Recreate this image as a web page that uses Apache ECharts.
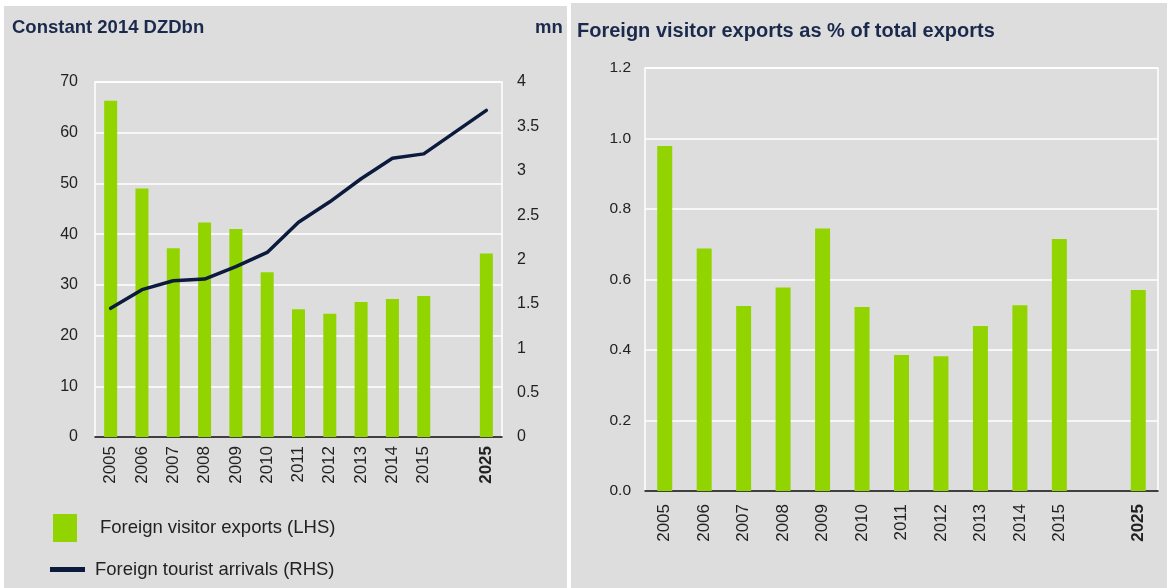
<!DOCTYPE html>
<html>
<head>
<meta charset="utf-8">
<script src="https://cdn.jsdelivr.net/npm/echarts@6/dist/echarts.min.js"></script>
<style>
html,body{margin:0;padding:0;background:#fff;}
#c{width:1167px;height:588px;}
</style>
</head>
<body>
<div id="c"></div>
<script>
// ---- data ----
const categories = ['2005','2006','2007','2008','2009','2010','2011','2012','2013','2014','2015','','2025'];
const visitorExports = [66.3, 49.0, 37.2, 42.3, 41.0, 32.5, 25.2, 24.3, 26.6, 27.2, 27.8, null, 36.2];
const touristArrivals = [1.45, 1.66, 1.76, 1.78, 1.92, 2.08, 2.42, 2.65, 2.91, 3.14, 3.19, null, 3.68];
const exportsShare = [0.979, 0.688, 0.525, 0.577, 0.745, 0.522, 0.386, 0.382, 0.468, 0.527, 0.715, null, 0.570];
const leftTitle = 'Constant 2014 DZDbn';
const rightUnit = 'mn';
const rightTitle = 'Foreign visitor exports as % of total exports';
const barName = 'Foreign visitor exports (LHS)';
const lineName = 'Foreign tourist arrivals (RHS)';
const shareName = 'Foreign visitor exports as % of total exports';

const GREEN = '#91d400';
const NAVY = '#0b1a3d';
const PANEL = '#dddddd';
const FONT = '"Liberation Sans", Arial, sans-serif';
const TXT = '#222222';

const chart = echarts.init(document.getElementById('c'), null, {renderer:'canvas'});

const xLabel = (margin) => ({
  rotate: 90,
  margin: margin,
  fontSize: 17,
  fontFamily: FONT,
  color: TXT,
  interval: 0,
  formatter: v => v === '2025' ? '{b|' + v + '}' : v,
  rich: { b: { fontWeight: 'bold', fontSize: 17, fontFamily: FONT, color: TXT } }
});

chart.setOption({
  animation: false,
  backgroundColor: '#ffffff',
  graphic: [
    { type: 'rect', z: -10, shape: { x: 4, y: 6, width: 563, height: 582 }, style: { fill: PANEL } },
    { type: 'rect', z: -10, shape: { x: 571, y: 3, width: 596, height: 585 }, style: { fill: PANEL } }
  ],
  title: [
    { text: leftTitle, left: 12, top: 18, padding: 0,
      textStyle: { fontFamily: FONT, fontSize: 18.5, fontWeight: 'bold', color: '#1b2a4c' } },
    { text: rightUnit, left: 535, top: 18, padding: 0,
      textStyle: { fontFamily: FONT, fontSize: 18.5, fontWeight: 'bold', color: '#1b2a4c' } },
    { text: rightTitle, left: 577, top: 21, padding: 0,
      textStyle: { fontFamily: FONT, fontSize: 20, fontWeight: 'bold', color: '#1b2a4c' } }
  ],
  legend: [
    { data: [barName], orient: 'vertical', left: 53, top: 514, padding: 0,
      itemWidth: 24, itemHeight: 28, icon: 'rect',
      textStyle: { fontFamily: FONT, fontSize: 18.5, color: TXT, padding: [0,0,0,18] } },
    { data: [{ name: lineName, icon: 'rect' }], orient: 'vertical', left: 50, top: 560, padding: 0,
      itemWidth: 35, itemHeight: 5,
      textStyle: { fontFamily: FONT, fontSize: 18.5, color: TXT, padding: [0,0,0,5] } }
  ],
  grid: [
    { left: 95, top: 82, width: 407, height: 355, show: true, borderColor: '#ffffff', borderWidth: 1.5, backgroundColor: 'transparent' },
    { left: 645, top: 68, width: 513, height: 423, show: true, borderColor: '#ffffff', borderWidth: 1.5, backgroundColor: 'transparent' }
  ],
  xAxis: [
    { type: 'category', gridIndex: 0, data: categories,
      axisLine: { lineStyle: { color: '#000', width: 1.5 } }, axisTick: { show: false },
      axisLabel: xLabel(9) },
    { type: 'category', gridIndex: 1, data: categories,
      axisLine: { lineStyle: { color: '#000', width: 1.5 } }, axisTick: { show: false },
      axisLabel: xLabel(13) }
  ],
  yAxis: [
    { type: 'value', gridIndex: 0, min: 0, max: 70, interval: 10,
      axisLine: { show: false }, axisTick: { show: false },
      splitLine: { lineStyle: { color: '#ffffff', width: 1.5 } },
      axisLabel: { margin: 17, fontSize: 16, fontFamily: FONT, color: TXT } },
    { type: 'value', gridIndex: 0, position: 'right', min: 0, max: 4, interval: 0.5,
      axisLine: { show: false }, axisTick: { show: false }, splitLine: { show: false },
      axisLabel: { margin: 15, fontSize: 16, fontFamily: FONT, color: TXT } },
    { type: 'value', gridIndex: 1, min: 0, max: 1.2, interval: 0.2,
      axisLine: { show: false }, axisTick: { show: false },
      splitLine: { lineStyle: { color: '#ffffff', width: 1.5 } },
      axisLabel: { margin: 14, fontSize: 15.5, fontFamily: FONT, color: TXT, formatter: v => v.toFixed(1) } }
  ],
  series: [
    { name: barName, type: 'bar', xAxisIndex: 0, yAxisIndex: 0, data: visitorExports,
      barWidth: 13, itemStyle: { color: GREEN } },
    { name: lineName, type: 'line', xAxisIndex: 0, yAxisIndex: 1, data: touristArrivals,
      connectNulls: true, showSymbol: false, symbol: 'none',
      lineStyle: { color: NAVY, width: 3.5, join: 'round', cap: 'round' }, itemStyle: { color: NAVY }, z: 5 },
    { name: shareName, type: 'bar', xAxisIndex: 1, yAxisIndex: 2, data: exportsShare,
      barWidth: 15, itemStyle: { color: GREEN } }
  ]
});
</script>
</body>
</html>
